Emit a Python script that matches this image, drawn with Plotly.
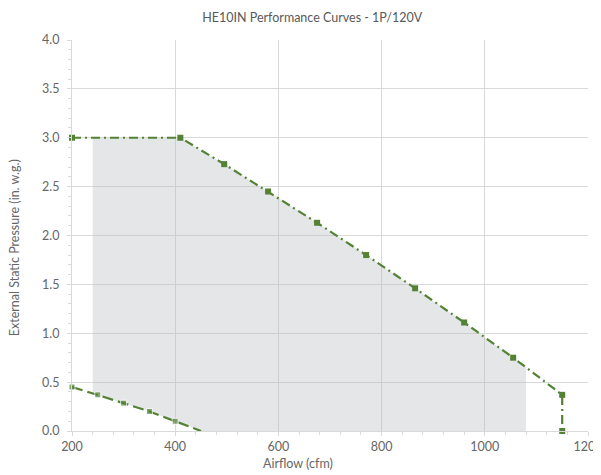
import numpy as np
import plotly.graph_objects as go

# Data
main_x = [200, 410, 495, 580, 675, 770, 865, 960, 1055, 1150, 1150]
main_y = [3.0, 3.0, 2.73, 2.45, 2.13, 1.80, 1.46, 1.11, 0.75, 0.37, 0.0]
low_x = [200, 250, 300, 350, 400, 450]
low_y = [0.45, 0.37, 0.285, 0.20, 0.10, 0.0]
region_xmin = 240
region_xmax = 1080

title = "HE10IN Performance Curves - 1P/120V"
x_title = "Airflow (cfm)"
y_title = "External Static Pressure (in. w.g.)"

green = "rgb(84,130,53)"
txt = "#666666"
font = "Lato, 'Open Sans', sans-serif"

# Region polygon built from the curves
mx = np.array(main_x[:-1], dtype=float)
my = np.array(main_y[:-1], dtype=float)
top_in = [(x, y) for x, y in zip(mx, my) if region_xmin < x < region_xmax]
top = [(region_xmin, float(np.interp(region_xmin, mx, my)))] + top_in + \
      [(region_xmax, float(np.interp(region_xmax, mx, my)))]
lx = np.array(low_x, dtype=float)
ly = np.array(low_y, dtype=float)
bottom = [(region_xmax, 0.0)] + [(x, y) for x, y in zip(lx[::-1], ly[::-1]) if x > region_xmin] + \
         [(region_xmin, float(np.interp(region_xmin, lx, ly)))]
poly = top + bottom
px = [p[0] for p in poly] + [poly[0][0]]
py = [p[1] for p in poly] + [poly[0][1]]

fig = go.Figure()
fig.add_trace(go.Scatter(x=px, y=py, mode="none", fill="toself",
                         fillcolor="rgba(185,188,192,0.38)", hoverinfo="skip",
                         showlegend=False))
fig.add_trace(go.Scatter(x=main_x, y=main_y, mode="lines+markers", cliponaxis=False,
                         line=dict(color=green, width=2.2, dash="9px,4px,2px,4px"),
                         marker=dict(symbol="square", size=6, color=green),
                         showlegend=False))
fig.add_trace(go.Scatter(x=low_x, y=low_y, mode="lines+markers", cliponaxis=False,
                         line=dict(color=green, width=2.2, dash="11px,5px"),
                         marker=dict(symbol="square", size=[6] * (len(low_x) - 1) + [0], color=green),
                         showlegend=False))

fig.update_layout(
    width=593, height=467,
    margin=dict(l=64, r=13, t=32, b=44),
    paper_bgcolor="white", plot_bgcolor="white",
    font=dict(family=font, color=txt, size=12),
    title=dict(text=title, x=0.513, xref="container", xanchor="center",
               y=0.979, yref="container", yanchor="middle",
               font=dict(size=12.5, color="#595959", family=font)),
    annotations=[
        dict(text=x_title, xref="paper", yref="paper", x=0.438, y=-0.082,
             showarrow=False, xanchor="center", yanchor="middle",
             font=dict(size=12.5, color=txt)),
        dict(text=y_title, xref="paper", yref="paper", x=-0.112, y=0.468,
             showarrow=False, textangle=-90, xanchor="center", yanchor="middle",
             font=dict(size=12.5, color=txt)),
    ],
)
fig.update_xaxes(range=[200, 1200], dtick=200, tick0=200, showgrid=True,
                 gridcolor="#d9d9d9", gridwidth=1, zeroline=False,
                 showline=True, linecolor="#d9d9d9", linewidth=1,
                 ticks="outside", ticklen=4, tickcolor="#d9d9d9",
                 ticklabeloverflow="allow", automargin=False,
                 minor=dict(dtick=40, ticks="outside", ticklen=3, tickcolor="#d9d9d9", showgrid=False),
                 tickfont=dict(size=12.5, color=txt), mirror=False)
fig.update_yaxes(range=[0, 4], dtick=0.5, tick0=0, tickformat=".1f", showgrid=True,
                 gridcolor="#d9d9d9", gridwidth=1, zeroline=False,
                 showline=True, linecolor="#d9d9d9", linewidth=1,
                 ticks="outside", ticklen=4, tickcolor="#d9d9d9",
                 ticklabeloverflow="allow", automargin=False, ticklabelstandoff=5,
                 minor=dict(dtick=0.1, ticks="outside", ticklen=3, tickcolor="#d9d9d9", showgrid=False),
                 tickfont=dict(size=12.5, color=txt))

fig.write_html("out.html")
